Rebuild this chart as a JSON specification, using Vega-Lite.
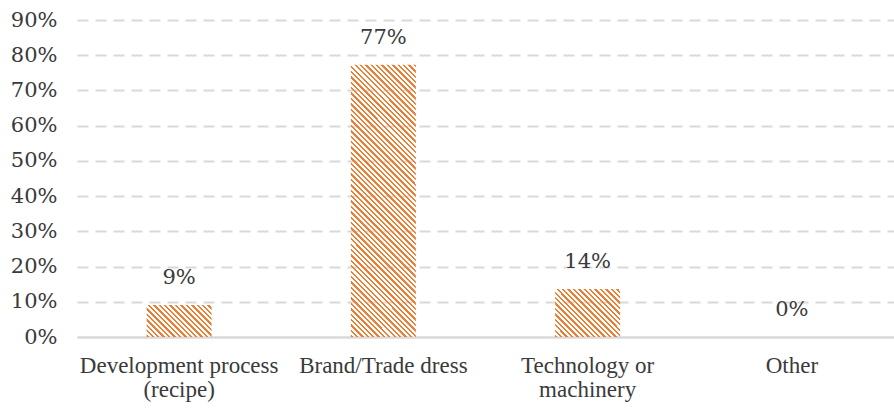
{
  "$schema": "https://vega.github.io/schema/vega-lite/v6.json",
  "width": 817,
  "height": 317,
  "autosize": {"type": "none"},
  "padding": {"left": 77, "top": 20, "right": 0, "bottom": 71},
  "background": "white",
  "config": {"view": {"stroke": null}, "font": "Liberation Serif"},
  "data": {"values": [
    {"category": "Development process (recipe)", "share": 0.0909},
    {"category": "Brand/Trade dress", "share": 0.7727},
    {"category": "Technology or machinery", "share": 0.1364},
    {"category": "Other", "share": 0}
  ]},
  "encoding": {
    "x": {"field": "category", "type": "nominal", "sort": null,
      "scale": {"paddingInner": 0.682, "paddingOuter": 0.341},
      "axis": {"title": null, "labelAngle": 0, "domain": true, "domainColor": "#d9d9d9", "domainWidth": 2,
        "ticks": false, "labelFont": "Liberation Serif", "labelFontSize": 23, "labelColor": "#3a3a3a",
        "labelPadding": 17, "labelLimit": 0, "labelLineHeight": 24, "labelBaseline": "top",
        "labelExpr": "datum.label == 'Development process (recipe)' ? ['Development process', '(recipe)'] : datum.label == 'Technology or machinery' ? ['Technology or', 'machinery'] : datum.label"}},
    "y": {"field": "share", "type": "quantitative",
      "scale": {"domain": [0, 0.9], "nice": false},
      "axis": {"title": null, "values": [0, 0.1, 0.2, 0.3, 0.4, 0.5, 0.6, 0.7, 0.8, 0.9], "format": ".0%",
        "domain": false, "ticks": false, "labelPadding": 20, "labelFont": "DejaVu Serif", "labelFontSize": 21,
        "labelColor": "#3a3a3a", "grid": true, "gridColor": "#d9d9d9", "gridWidth": 2,
        "gridDash": {"condition": {"test": "datum.value === 0", "value": []}, "value": [11, 7]}}}
  },
  "layer": [
    {
      "transform": [{"filter": "datum.category == 'Development process (recipe)'"}],
      "mark": {"type": "bar", "fill": {"gradient": "linear", "x1": 0, "y1": 1, "x2": 1.201, "y2": 0.4086, "stops": [
        {"offset": 0, "color": "#ed7d31"}, {"offset": 0.025, "color": "#ed7d31"}, {"offset": 0.025, "color": "transparent"}, {"offset": 0.056, "color": "transparent"},
        {"offset": 0.056, "color": "#ed7d31"}, {"offset": 0.081, "color": "#ed7d31"}, {"offset": 0.081, "color": "transparent"}, {"offset": 0.112, "color": "transparent"},
        {"offset": 0.112, "color": "#ed7d31"}, {"offset": 0.137, "color": "#ed7d31"}, {"offset": 0.137, "color": "transparent"}, {"offset": 0.168, "color": "transparent"},
        {"offset": 0.168, "color": "#ed7d31"}, {"offset": 0.193, "color": "#ed7d31"}, {"offset": 0.193, "color": "transparent"}, {"offset": 0.224, "color": "transparent"},
        {"offset": 0.224, "color": "#ed7d31"}, {"offset": 0.249, "color": "#ed7d31"}, {"offset": 0.249, "color": "transparent"}, {"offset": 0.28, "color": "transparent"},
        {"offset": 0.28, "color": "#ed7d31"}, {"offset": 0.305, "color": "#ed7d31"}, {"offset": 0.305, "color": "transparent"}, {"offset": 0.336, "color": "transparent"},
        {"offset": 0.336, "color": "#ed7d31"}, {"offset": 0.361, "color": "#ed7d31"}, {"offset": 0.361, "color": "transparent"}, {"offset": 0.392, "color": "transparent"},
        {"offset": 0.392, "color": "#ed7d31"}, {"offset": 0.417, "color": "#ed7d31"}, {"offset": 0.417, "color": "transparent"}, {"offset": 0.448, "color": "transparent"},
        {"offset": 0.448, "color": "#ed7d31"}, {"offset": 0.473, "color": "#ed7d31"}, {"offset": 0.473, "color": "transparent"}, {"offset": 0.504, "color": "transparent"},
        {"offset": 0.504, "color": "#ed7d31"}, {"offset": 0.529, "color": "#ed7d31"}, {"offset": 0.529, "color": "transparent"}, {"offset": 0.56, "color": "transparent"},
        {"offset": 0.56, "color": "#ed7d31"}, {"offset": 0.585, "color": "#ed7d31"}, {"offset": 0.585, "color": "transparent"}, {"offset": 0.616, "color": "transparent"},
        {"offset": 0.616, "color": "#ed7d31"}, {"offset": 0.641, "color": "#ed7d31"}, {"offset": 0.641, "color": "transparent"}, {"offset": 0.672, "color": "transparent"},
        {"offset": 0.672, "color": "#ed7d31"}, {"offset": 0.697, "color": "#ed7d31"}, {"offset": 0.697, "color": "transparent"}, {"offset": 0.728, "color": "transparent"},
        {"offset": 0.728, "color": "#ed7d31"}, {"offset": 0.753, "color": "#ed7d31"}, {"offset": 0.753, "color": "transparent"}, {"offset": 0.784, "color": "transparent"},
        {"offset": 0.784, "color": "#ed7d31"}, {"offset": 0.809, "color": "#ed7d31"}, {"offset": 0.809, "color": "transparent"}, {"offset": 0.84, "color": "transparent"},
        {"offset": 0.84, "color": "#ed7d31"}, {"offset": 0.865, "color": "#ed7d31"}, {"offset": 0.865, "color": "transparent"}, {"offset": 0.896, "color": "transparent"},
        {"offset": 0.896, "color": "#ed7d31"}, {"offset": 0.921, "color": "#ed7d31"}, {"offset": 0.921, "color": "transparent"}, {"offset": 0.952, "color": "transparent"},
        {"offset": 0.952, "color": "#ed7d31"}, {"offset": 0.977, "color": "#ed7d31"}, {"offset": 0.977, "color": "transparent"}, {"offset": 1, "color": "transparent"}
      ]}}
    },
    {
      "transform": [{"filter": "datum.category == 'Brand/Trade dress'"}],
      "mark": {"type": "bar", "fill": {"gradient": "linear", "x1": 0, "y1": 1, "x2": 0.2799, "y2": -0.172, "stops": [
        {"offset": 0, "color": "#ed7d31"}, {"offset": 0.007, "color": "#ed7d31"}, {"offset": 0.007, "color": "transparent"}, {"offset": 0.016, "color": "transparent"},
        {"offset": 0.016, "color": "#ed7d31"}, {"offset": 0.023, "color": "#ed7d31"}, {"offset": 0.023, "color": "transparent"}, {"offset": 0.032, "color": "transparent"},
        {"offset": 0.032, "color": "#ed7d31"}, {"offset": 0.039, "color": "#ed7d31"}, {"offset": 0.039, "color": "transparent"}, {"offset": 0.048, "color": "transparent"},
        {"offset": 0.048, "color": "#ed7d31"}, {"offset": 0.055, "color": "#ed7d31"}, {"offset": 0.055, "color": "transparent"}, {"offset": 0.064, "color": "transparent"},
        {"offset": 0.064, "color": "#ed7d31"}, {"offset": 0.071, "color": "#ed7d31"}, {"offset": 0.071, "color": "transparent"}, {"offset": 0.08, "color": "transparent"},
        {"offset": 0.08, "color": "#ed7d31"}, {"offset": 0.087, "color": "#ed7d31"}, {"offset": 0.087, "color": "transparent"}, {"offset": 0.096, "color": "transparent"},
        {"offset": 0.096, "color": "#ed7d31"}, {"offset": 0.103, "color": "#ed7d31"}, {"offset": 0.103, "color": "transparent"}, {"offset": 0.112, "color": "transparent"},
        {"offset": 0.112, "color": "#ed7d31"}, {"offset": 0.119, "color": "#ed7d31"}, {"offset": 0.119, "color": "transparent"}, {"offset": 0.128, "color": "transparent"},
        {"offset": 0.128, "color": "#ed7d31"}, {"offset": 0.135, "color": "#ed7d31"}, {"offset": 0.135, "color": "transparent"}, {"offset": 0.144, "color": "transparent"},
        {"offset": 0.144, "color": "#ed7d31"}, {"offset": 0.151, "color": "#ed7d31"}, {"offset": 0.151, "color": "transparent"}, {"offset": 0.16, "color": "transparent"},
        {"offset": 0.16, "color": "#ed7d31"}, {"offset": 0.167, "color": "#ed7d31"}, {"offset": 0.167, "color": "transparent"}, {"offset": 0.176, "color": "transparent"},
        {"offset": 0.176, "color": "#ed7d31"}, {"offset": 0.183, "color": "#ed7d31"}, {"offset": 0.183, "color": "transparent"}, {"offset": 0.192, "color": "transparent"},
        {"offset": 0.192, "color": "#ed7d31"}, {"offset": 0.199, "color": "#ed7d31"}, {"offset": 0.199, "color": "transparent"}, {"offset": 0.208, "color": "transparent"},
        {"offset": 0.208, "color": "#ed7d31"}, {"offset": 0.215, "color": "#ed7d31"}, {"offset": 0.215, "color": "transparent"}, {"offset": 0.224, "color": "transparent"},
        {"offset": 0.224, "color": "#ed7d31"}, {"offset": 0.231, "color": "#ed7d31"}, {"offset": 0.231, "color": "transparent"}, {"offset": 0.24, "color": "transparent"},
        {"offset": 0.24, "color": "#ed7d31"}, {"offset": 0.247, "color": "#ed7d31"}, {"offset": 0.247, "color": "transparent"}, {"offset": 0.256, "color": "transparent"},
        {"offset": 0.256, "color": "#ed7d31"}, {"offset": 0.263, "color": "#ed7d31"}, {"offset": 0.263, "color": "transparent"}, {"offset": 0.272, "color": "transparent"},
        {"offset": 0.272, "color": "#ed7d31"}, {"offset": 0.279, "color": "#ed7d31"}, {"offset": 0.279, "color": "transparent"}, {"offset": 0.288, "color": "transparent"},
        {"offset": 0.288, "color": "#ed7d31"}, {"offset": 0.295, "color": "#ed7d31"}, {"offset": 0.295, "color": "transparent"}, {"offset": 0.304, "color": "transparent"},
        {"offset": 0.304, "color": "#ed7d31"}, {"offset": 0.311, "color": "#ed7d31"}, {"offset": 0.311, "color": "transparent"}, {"offset": 0.32, "color": "transparent"},
        {"offset": 0.32, "color": "#ed7d31"}, {"offset": 0.327, "color": "#ed7d31"}, {"offset": 0.327, "color": "transparent"}, {"offset": 0.336, "color": "transparent"},
        {"offset": 0.336, "color": "#ed7d31"}, {"offset": 0.343, "color": "#ed7d31"}, {"offset": 0.343, "color": "transparent"}, {"offset": 0.352, "color": "transparent"},
        {"offset": 0.352, "color": "#ed7d31"}, {"offset": 0.359, "color": "#ed7d31"}, {"offset": 0.359, "color": "transparent"}, {"offset": 0.368, "color": "transparent"},
        {"offset": 0.368, "color": "#ed7d31"}, {"offset": 0.375, "color": "#ed7d31"}, {"offset": 0.375, "color": "transparent"}, {"offset": 0.384, "color": "transparent"},
        {"offset": 0.384, "color": "#ed7d31"}, {"offset": 0.391, "color": "#ed7d31"}, {"offset": 0.391, "color": "transparent"}, {"offset": 0.4, "color": "transparent"},
        {"offset": 0.4, "color": "#ed7d31"}, {"offset": 0.407, "color": "#ed7d31"}, {"offset": 0.407, "color": "transparent"}, {"offset": 0.416, "color": "transparent"},
        {"offset": 0.416, "color": "#ed7d31"}, {"offset": 0.423, "color": "#ed7d31"}, {"offset": 0.423, "color": "transparent"}, {"offset": 0.432, "color": "transparent"},
        {"offset": 0.432, "color": "#ed7d31"}, {"offset": 0.439, "color": "#ed7d31"}, {"offset": 0.439, "color": "transparent"}, {"offset": 0.448, "color": "transparent"},
        {"offset": 0.448, "color": "#ed7d31"}, {"offset": 0.455, "color": "#ed7d31"}, {"offset": 0.455, "color": "transparent"}, {"offset": 0.464, "color": "transparent"},
        {"offset": 0.464, "color": "#ed7d31"}, {"offset": 0.471, "color": "#ed7d31"}, {"offset": 0.471, "color": "transparent"}, {"offset": 0.48, "color": "transparent"},
        {"offset": 0.48, "color": "#ed7d31"}, {"offset": 0.487, "color": "#ed7d31"}, {"offset": 0.487, "color": "transparent"}, {"offset": 0.496, "color": "transparent"},
        {"offset": 0.496, "color": "#ed7d31"}, {"offset": 0.503, "color": "#ed7d31"}, {"offset": 0.503, "color": "transparent"}, {"offset": 0.512, "color": "transparent"},
        {"offset": 0.512, "color": "#ed7d31"}, {"offset": 0.519, "color": "#ed7d31"}, {"offset": 0.519, "color": "transparent"}, {"offset": 0.528, "color": "transparent"},
        {"offset": 0.528, "color": "#ed7d31"}, {"offset": 0.535, "color": "#ed7d31"}, {"offset": 0.535, "color": "transparent"}, {"offset": 0.544, "color": "transparent"},
        {"offset": 0.544, "color": "#ed7d31"}, {"offset": 0.551, "color": "#ed7d31"}, {"offset": 0.551, "color": "transparent"}, {"offset": 0.56, "color": "transparent"},
        {"offset": 0.56, "color": "#ed7d31"}, {"offset": 0.567, "color": "#ed7d31"}, {"offset": 0.567, "color": "transparent"}, {"offset": 0.576, "color": "transparent"},
        {"offset": 0.576, "color": "#ed7d31"}, {"offset": 0.583, "color": "#ed7d31"}, {"offset": 0.583, "color": "transparent"}, {"offset": 0.592, "color": "transparent"},
        {"offset": 0.592, "color": "#ed7d31"}, {"offset": 0.599, "color": "#ed7d31"}, {"offset": 0.599, "color": "transparent"}, {"offset": 0.608, "color": "transparent"},
        {"offset": 0.608, "color": "#ed7d31"}, {"offset": 0.615, "color": "#ed7d31"}, {"offset": 0.615, "color": "transparent"}, {"offset": 0.624, "color": "transparent"},
        {"offset": 0.624, "color": "#ed7d31"}, {"offset": 0.631, "color": "#ed7d31"}, {"offset": 0.631, "color": "transparent"}, {"offset": 0.64, "color": "transparent"},
        {"offset": 0.64, "color": "#ed7d31"}, {"offset": 0.647, "color": "#ed7d31"}, {"offset": 0.647, "color": "transparent"}, {"offset": 0.656, "color": "transparent"},
        {"offset": 0.656, "color": "#ed7d31"}, {"offset": 0.663, "color": "#ed7d31"}, {"offset": 0.663, "color": "transparent"}, {"offset": 0.672, "color": "transparent"},
        {"offset": 0.672, "color": "#ed7d31"}, {"offset": 0.679, "color": "#ed7d31"}, {"offset": 0.679, "color": "transparent"}, {"offset": 0.688, "color": "transparent"},
        {"offset": 0.688, "color": "#ed7d31"}, {"offset": 0.695, "color": "#ed7d31"}, {"offset": 0.695, "color": "transparent"}, {"offset": 0.704, "color": "transparent"},
        {"offset": 0.704, "color": "#ed7d31"}, {"offset": 0.711, "color": "#ed7d31"}, {"offset": 0.711, "color": "transparent"}, {"offset": 0.72, "color": "transparent"},
        {"offset": 0.72, "color": "#ed7d31"}, {"offset": 0.727, "color": "#ed7d31"}, {"offset": 0.727, "color": "transparent"}, {"offset": 0.736, "color": "transparent"},
        {"offset": 0.736, "color": "#ed7d31"}, {"offset": 0.743, "color": "#ed7d31"}, {"offset": 0.743, "color": "transparent"}, {"offset": 0.752, "color": "transparent"},
        {"offset": 0.752, "color": "#ed7d31"}, {"offset": 0.759, "color": "#ed7d31"}, {"offset": 0.759, "color": "transparent"}, {"offset": 0.768, "color": "transparent"},
        {"offset": 0.768, "color": "#ed7d31"}, {"offset": 0.775, "color": "#ed7d31"}, {"offset": 0.775, "color": "transparent"}, {"offset": 0.784, "color": "transparent"},
        {"offset": 0.784, "color": "#ed7d31"}, {"offset": 0.791, "color": "#ed7d31"}, {"offset": 0.791, "color": "transparent"}, {"offset": 0.8, "color": "transparent"},
        {"offset": 0.8, "color": "#ed7d31"}, {"offset": 0.807, "color": "#ed7d31"}, {"offset": 0.807, "color": "transparent"}, {"offset": 0.816, "color": "transparent"},
        {"offset": 0.816, "color": "#ed7d31"}, {"offset": 0.823, "color": "#ed7d31"}, {"offset": 0.823, "color": "transparent"}, {"offset": 0.832, "color": "transparent"},
        {"offset": 0.832, "color": "#ed7d31"}, {"offset": 0.839, "color": "#ed7d31"}, {"offset": 0.839, "color": "transparent"}, {"offset": 0.848, "color": "transparent"},
        {"offset": 0.848, "color": "#ed7d31"}, {"offset": 0.855, "color": "#ed7d31"}, {"offset": 0.855, "color": "transparent"}, {"offset": 0.864, "color": "transparent"},
        {"offset": 0.864, "color": "#ed7d31"}, {"offset": 0.871, "color": "#ed7d31"}, {"offset": 0.871, "color": "transparent"}, {"offset": 0.88, "color": "transparent"},
        {"offset": 0.88, "color": "#ed7d31"}, {"offset": 0.887, "color": "#ed7d31"}, {"offset": 0.887, "color": "transparent"}, {"offset": 0.896, "color": "transparent"},
        {"offset": 0.896, "color": "#ed7d31"}, {"offset": 0.903, "color": "#ed7d31"}, {"offset": 0.903, "color": "transparent"}, {"offset": 0.912, "color": "transparent"},
        {"offset": 0.912, "color": "#ed7d31"}, {"offset": 0.919, "color": "#ed7d31"}, {"offset": 0.919, "color": "transparent"}, {"offset": 0.928, "color": "transparent"},
        {"offset": 0.928, "color": "#ed7d31"}, {"offset": 0.935, "color": "#ed7d31"}, {"offset": 0.935, "color": "transparent"}, {"offset": 0.944, "color": "transparent"},
        {"offset": 0.944, "color": "#ed7d31"}, {"offset": 0.951, "color": "#ed7d31"}, {"offset": 0.951, "color": "transparent"}, {"offset": 0.96, "color": "transparent"},
        {"offset": 0.96, "color": "#ed7d31"}, {"offset": 0.967, "color": "#ed7d31"}, {"offset": 0.967, "color": "transparent"}, {"offset": 0.976, "color": "transparent"},
        {"offset": 0.976, "color": "#ed7d31"}, {"offset": 0.983, "color": "#ed7d31"}, {"offset": 0.983, "color": "transparent"}, {"offset": 0.992, "color": "transparent"},
        {"offset": 0.992, "color": "#ed7d31"}, {"offset": 0.999, "color": "#ed7d31"}, {"offset": 0.999, "color": "transparent"}, {"offset": 1, "color": "transparent"}
      ]}}
    },
    {
      "transform": [{"filter": "datum.category == 'Technology or machinery'"}],
      "mark": {"type": "bar", "fill": {"gradient": "linear", "x1": 0, "y1": 1, "x2": 1.125, "y2": 0.1692, "stops": [
        {"offset": 0, "color": "#ed7d31"}, {"offset": 0.021, "color": "#ed7d31"}, {"offset": 0.021, "color": "transparent"}, {"offset": 0.048, "color": "transparent"},
        {"offset": 0.048, "color": "#ed7d31"}, {"offset": 0.069, "color": "#ed7d31"}, {"offset": 0.069, "color": "transparent"}, {"offset": 0.096, "color": "transparent"},
        {"offset": 0.096, "color": "#ed7d31"}, {"offset": 0.117, "color": "#ed7d31"}, {"offset": 0.117, "color": "transparent"}, {"offset": 0.144, "color": "transparent"},
        {"offset": 0.144, "color": "#ed7d31"}, {"offset": 0.165, "color": "#ed7d31"}, {"offset": 0.165, "color": "transparent"}, {"offset": 0.192, "color": "transparent"},
        {"offset": 0.192, "color": "#ed7d31"}, {"offset": 0.213, "color": "#ed7d31"}, {"offset": 0.213, "color": "transparent"}, {"offset": 0.24, "color": "transparent"},
        {"offset": 0.24, "color": "#ed7d31"}, {"offset": 0.261, "color": "#ed7d31"}, {"offset": 0.261, "color": "transparent"}, {"offset": 0.288, "color": "transparent"},
        {"offset": 0.288, "color": "#ed7d31"}, {"offset": 0.309, "color": "#ed7d31"}, {"offset": 0.309, "color": "transparent"}, {"offset": 0.336, "color": "transparent"},
        {"offset": 0.336, "color": "#ed7d31"}, {"offset": 0.357, "color": "#ed7d31"}, {"offset": 0.357, "color": "transparent"}, {"offset": 0.384, "color": "transparent"},
        {"offset": 0.384, "color": "#ed7d31"}, {"offset": 0.405, "color": "#ed7d31"}, {"offset": 0.405, "color": "transparent"}, {"offset": 0.432, "color": "transparent"},
        {"offset": 0.432, "color": "#ed7d31"}, {"offset": 0.453, "color": "#ed7d31"}, {"offset": 0.453, "color": "transparent"}, {"offset": 0.48, "color": "transparent"},
        {"offset": 0.48, "color": "#ed7d31"}, {"offset": 0.501, "color": "#ed7d31"}, {"offset": 0.501, "color": "transparent"}, {"offset": 0.528, "color": "transparent"},
        {"offset": 0.528, "color": "#ed7d31"}, {"offset": 0.549, "color": "#ed7d31"}, {"offset": 0.549, "color": "transparent"}, {"offset": 0.576, "color": "transparent"},
        {"offset": 0.576, "color": "#ed7d31"}, {"offset": 0.597, "color": "#ed7d31"}, {"offset": 0.597, "color": "transparent"}, {"offset": 0.624, "color": "transparent"},
        {"offset": 0.624, "color": "#ed7d31"}, {"offset": 0.645, "color": "#ed7d31"}, {"offset": 0.645, "color": "transparent"}, {"offset": 0.672, "color": "transparent"},
        {"offset": 0.672, "color": "#ed7d31"}, {"offset": 0.693, "color": "#ed7d31"}, {"offset": 0.693, "color": "transparent"}, {"offset": 0.72, "color": "transparent"},
        {"offset": 0.72, "color": "#ed7d31"}, {"offset": 0.741, "color": "#ed7d31"}, {"offset": 0.741, "color": "transparent"}, {"offset": 0.768, "color": "transparent"},
        {"offset": 0.768, "color": "#ed7d31"}, {"offset": 0.789, "color": "#ed7d31"}, {"offset": 0.789, "color": "transparent"}, {"offset": 0.816, "color": "transparent"},
        {"offset": 0.816, "color": "#ed7d31"}, {"offset": 0.837, "color": "#ed7d31"}, {"offset": 0.837, "color": "transparent"}, {"offset": 0.864, "color": "transparent"},
        {"offset": 0.864, "color": "#ed7d31"}, {"offset": 0.885, "color": "#ed7d31"}, {"offset": 0.885, "color": "transparent"}, {"offset": 0.912, "color": "transparent"},
        {"offset": 0.912, "color": "#ed7d31"}, {"offset": 0.933, "color": "#ed7d31"}, {"offset": 0.933, "color": "transparent"}, {"offset": 0.96, "color": "transparent"},
        {"offset": 0.96, "color": "#ed7d31"}, {"offset": 0.981, "color": "#ed7d31"}, {"offset": 0.981, "color": "transparent"}, {"offset": 1, "color": "transparent"}
      ]}}
    },
    {
      "mark": {"type": "text", "baseline": "middle", "dy": -27, "font": "DejaVu Serif", "fontSize": 21, "color": "#3a3a3a"},
      "encoding": {"text": {"field": "share", "type": "quantitative", "format": ".0%"}}
    }
  ]
}
